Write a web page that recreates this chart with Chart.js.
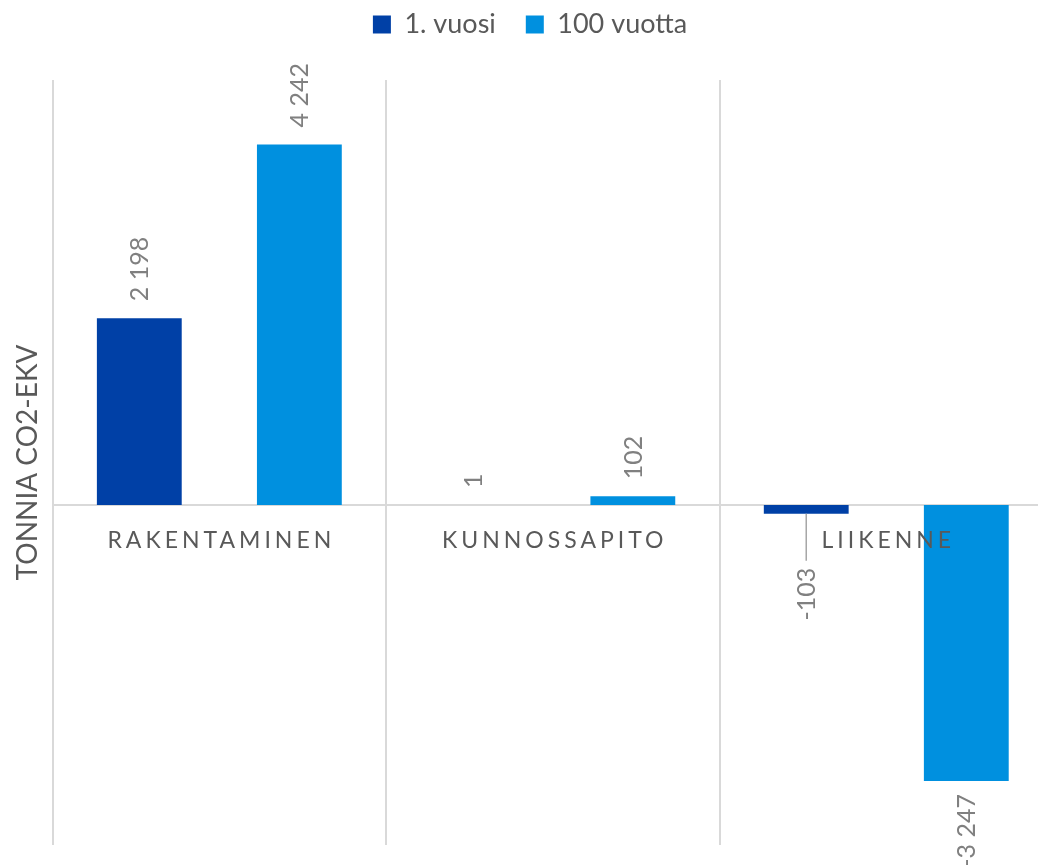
<!DOCTYPE html>
<html><head><meta charset="utf-8">
<script src="https://cdn.jsdelivr.net/npm/chart.js@4"></script>
<style>
html,body{margin:0;padding:0;overflow:hidden;background:#fff;width:1038px;height:865px}
#wrap{width:1062px;height:865px}
</style></head>
<body><div id="wrap"><canvas id="c" width="1062" height="865"></canvas></div>
<script>
const categories = ['RAKENTAMINEN', 'KUNNOSSAPITO', 'LIIKENNE'];
const seriesNames = ['1. vuosi', '100 vuotta'];
const year1 = [2198, 1, -103];
const year100 = [4242, 102, -3247];
const yTitle = 'TONNIA CO2-EKV';
const yMin = -4000, yMax = 5000;

const FONT = 'Lato, "Open Sans", sans-serif';
const fmt = v => String(v).replace(/\B(?=(\d{3})+(?!\d))/g, ' ');

const legendGap = {
  id: 'legendGap',
  beforeLayout(chart) {
    const lg = chart.legend;
    if (lg && !lg._gapPatched) {
      const f = lg.fit;
      lg.fit = function () { f.call(this); this.height += 32; };
      lg._gapPatched = true;
    }
  }
};

const labelsPlugin = {
  id: 'barLabels',
  afterDatasetsDraw(chart) {
    const ctx = chart.ctx;
    const xs = chart.scales.x, ys = chart.scales.y;
    ctx.save();
    ctx.font = '23px ' + FONT;
    ctx.fillStyle = '#595959';
    ctx.textAlign = 'center';
    ctx.textBaseline = 'middle';
    ctx.letterSpacing = '4px';
    const y0 = ys.getPixelForValue(0);
    categories.forEach((c, i) => {
      ctx.fillText(c, xs.getPixelForValue(i) + 2, y0 + 36);
    });
    ctx.restore();
    ctx.save();
    ctx.font = '25px ' + FONT;
    ctx.fillStyle = '#808080';
    ctx.textBaseline = 'middle';
    chart.data.datasets.forEach((ds, di) => {
      const meta = chart.getDatasetMeta(di);
      meta.data.forEach((bar, i) => {
        const v = ds.data[i];
        const txt = fmt(v);
        ctx.save();
        ctx.translate(bar.x + 1, bar.y);
        ctx.rotate(-Math.PI / 2);
        if (v >= 0) {
          ctx.textAlign = 'left';
          ctx.fillText(txt, 17, 0);
        } else {
          const leader = (di === 0 && i === 2);
          const gap = leader ? 54 : 13;
          ctx.textAlign = 'right';
          ctx.fillText(txt, -gap, 0);
          if (leader) {
            ctx.strokeStyle = '#a6a6a6';
            ctx.lineWidth = 1.5;
            ctx.beginPath();
            ctx.moveTo(0, -1);
            ctx.lineTo(-47, -1);
            ctx.stroke();
          }
        }
        ctx.restore();
      });
    });
    ctx.restore();
  }
};

new Chart(document.getElementById('c'), {
  type: 'bar',
  data: {
    labels: categories,
    datasets: [
      { label: seriesNames[0], data: year1, backgroundColor: '#0040A6' },
      { label: seriesNames[1], data: year100, backgroundColor: '#0090DF' }
    ]
  },
  options: {
    responsive: false,
    animation: false,
    devicePixelRatio: 1,
    categoryPercentage: 0.96,
    barPercentage: 0.53,
    layout: { padding: { left: 7, right: 9, top: -19, bottom: 20 } },
    plugins: {
      legend: {
        position: 'top',
        labels: {
          boxWidth: 18, boxHeight: 18, padding: 30,
          color: '#595959',
          font: { family: FONT, size: 27 }
        }
      },
      tooltip: { enabled: false }
    },
    scales: {
      x: {
        position: { y: 0 },
        grid: { color: '#d9d9d9', lineWidth: 2, drawTicks: false, offset: true },
        border: { color: '#d9d9d9', width: 2 },
        ticks: { display: false }
      },
      y: {
        min: yMin, max: yMax,
        grid: { display: false, drawTicks: false },
        border: { display: false },
        ticks: { display: false },
        title: {
          display: true, text: yTitle, color: '#595959',
          font: { family: FONT, size: 28 },
          padding: { top: 4, bottom: 8 }
        }
      }
    }
  },
  plugins: [legendGap, labelsPlugin]
});
</script>
</body></html>
